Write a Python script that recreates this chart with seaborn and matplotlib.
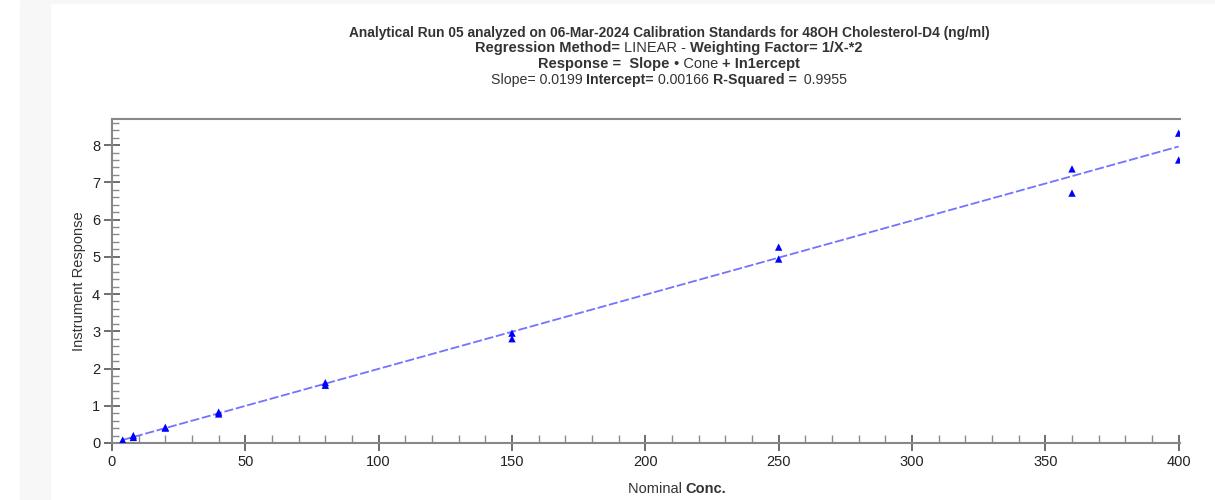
import numpy as np
import pandas as pd
import seaborn as sns
import matplotlib.pyplot as plt
from matplotlib.patches import Rectangle
from matplotlib.ticker import MultipleLocator

sns.set_style("white")
plt.rcParams['font.family'] = ['Liberation Sans', 'DejaVu Sans']

# calibration standards (nominal conc, instrument response), two replicates each
conc = [4, 4, 8, 8, 20, 20, 40, 40, 80, 80, 150, 150, 250, 250, 360, 360, 400, 400]
response = [0.05, 0.08, 0.15, 0.20, 0.40, 0.42, 0.78, 0.83, 1.55, 1.62,
            2.80, 2.95, 4.94, 5.26, 6.71, 7.36, 7.60, 8.32]
slope = 0.0199
intercept = 0.00166
fit_x = [4, 400]
fit_y = [slope * v + intercept for v in fit_x]

df = pd.DataFrame({'conc': conc, 'resp': response})
fit_df = pd.DataFrame({'conc': fit_x, 'resp': fit_y})

W, H = 1215, 500
fig = plt.figure(figsize=(12.15, 5), dpi=100)
fig.patches.append(Rectangle((20 / W, 0), 30 / W, 1, transform=fig.transFigure,
                             color='#f7f7f7', zorder=-10))
fig.patches.append(Rectangle((50 / W, 497 / H), 1, 3 / H, transform=fig.transFigure,
                             color='#f7f7f7', zorder=-10))

ax = fig.add_axes([112 / W, 1 - 443 / H, (1180 - 112) / W, (443 - 119) / H])
ax.patch.set_alpha(0)

sns.lineplot(data=fit_df, x='conc', y='resp', ax=ax, color='#5a5aff', lw=1.3,
             alpha=0.85, linestyle=(0, (5, 1.5)))
sns.scatterplot(data=df, x='conc', y='resp', ax=ax, marker='^', color='#0000ff',
                s=28, edgecolor='none', zorder=3)

ax.set_xlim(0, 400.5)
ax.set_ylim(0, 8.7)
ax.xaxis.set_major_locator(MultipleLocator(50))
ax.xaxis.set_minor_locator(MultipleLocator(10))
ax.yaxis.set_major_locator(MultipleLocator(1))
ax.yaxis.set_minor_locator(MultipleLocator(0.2))
ax.tick_params(which='major', direction='inout', length=11, width=1.2,
               color='#555555', labelsize=10.5, labelcolor='#222222', pad=3)
ax.tick_params(which='minor', direction='in', length=5, width=1.0, color='#8a8a8a')
ax.tick_params(axis='x', which='major', length=12)
ax.tick_params(axis='x', which='minor', length=6)
ax.tick_params(axis='both', which='both', bottom=True, left=True)
for s in ['left', 'bottom', 'top']:
    ax.spines[s].set_color('#888888')
    ax.spines[s].set_linewidth(1.5)
ax.spines['right'].set_visible(False)
ax.set_xlabel('')
ax.set_ylabel('Instrument Response', fontsize=10.5, color='#333333', labelpad=4)

renderer = fig.canvas.get_renderer()


def rich_line(yc, parts, cx=669, size=10.5, color='#333333'):
    texts = [fig.text(0, 1 - yc / H, s, fontweight=w, fontsize=size, color=color,
                      va='center', ha='left') for s, w in parts]
    widths = [t.get_window_extent(renderer).width for t in texts]
    x = cx - sum(widths) / 2
    for t, w in zip(texts, widths):
        t.set_x(x / W)
        x += w


rich_line(33, [('Analytical Run 05 analyzed on 06-Mar-2024 Calibration Standards for 48OH Cholesterol-D4 (ng/ml)', 'bold')],
          size=9.9)
rich_line(48, [('Regression Method= ', 'bold'), ('LINEAR - ', 'normal'),
               ('Weighting Factor= 1/X-*2', 'bold')])
rich_line(64, [('Response =  Slope ', 'bold'), ('• Cone ', 'normal'), ('+ In1ercept', 'bold')])
rich_line(80, [('Slope= 0.0199 ', 'normal'), ('Intercept= ', 'bold'), ('0.00166 ', 'normal'),
               ('R-Squared = ', 'bold'), (' 0.9955', 'normal')], size=10.2)
rich_line(489, [('Nominal ', 'normal'), ('Conc.', 'bold')], cx=677, size=10.5)

fig.savefig('out.png', dpi=100)
